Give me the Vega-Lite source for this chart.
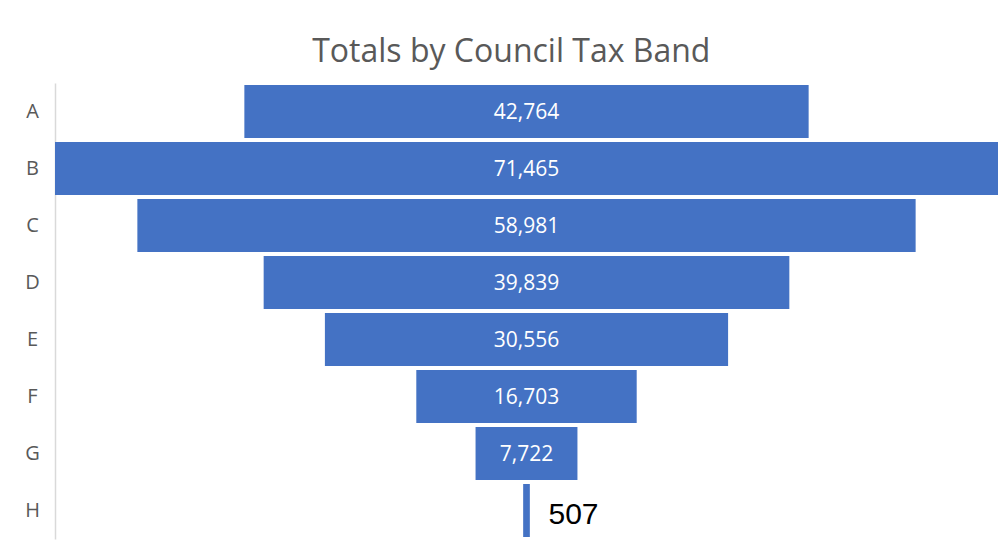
{
  "$schema": "https://vega.github.io/schema/vega-lite/v6.json",
  "width": 943,
  "height": 456,
  "autosize": "none",
  "padding": {"left": 55, "top": 83, "right": 7, "bottom": 12},
  "background": "white",
  "title": {
    "text": "Totals by Council Tax Band",
    "font": "Open Sans",
    "fontSize": 32,
    "fontWeight": "normal",
    "color": "#595959",
    "anchor": "middle",
    "frame": "bounds",
    "offset": 14
  },
  "data": {
    "values": [
      {"band": "A", "value": 42764},
      {"band": "B", "value": 71465},
      {"band": "C", "value": 58981},
      {"band": "D", "value": 39839},
      {"band": "E", "value": 30556},
      {"band": "F", "value": 16703},
      {"band": "G", "value": 7722},
      {"band": "H", "value": 507}
    ]
  },
  "encoding": {
    "y": {
      "field": "band",
      "type": "nominal",
      "sort": null,
      "scale": {"paddingInner": 0.07, "paddingOuter": 0.035},
      "axis": {
        "title": null,
        "ticks": false,
        "domainColor": "#d9d9d9",
        "domainWidth": 1.5,
        "labelFont": "Open Sans",
        "labelFontSize": 20,
        "labelColor": "#595959",
        "labelAlign": "center",
        "labelPadding": 23
      }
    }
  },
  "layer": [
    {
      "mark": {"type": "bar", "color": "#4472C4"},
      "encoding": {
        "x": {
          "field": "value",
          "type": "quantitative",
          "stack": "center",
          "scale": {"domain": [0, 71465], "nice": false, "zero": true},
          "axis": null
        }
      }
    },
    {
      "transform": [{"filter": "datum.band !== 'H'"}],
      "mark": {"type": "text", "color": "white", "font": "Open Sans", "fontSize": 21, "align": "center", "baseline": "middle", "dy": 1},
      "encoding": {
        "x": {"datum": 35732.5, "type": "quantitative", "axis": null},
        "text": {"field": "value", "type": "quantitative", "format": ","}
      }
    },
    {
      "transform": [{"filter": "datum.band === 'H'"}],
      "mark": {"type": "text", "color": "black", "font": "Liberation Sans", "fontSize": 30, "align": "left", "baseline": "middle", "dx": 22, "dy": 4},
      "encoding": {
        "x": {"datum": 35732.5, "type": "quantitative", "axis": null},
        "text": {"field": "value", "type": "quantitative", "format": ","}
      }
    }
  ],
  "config": {"view": {"stroke": null}}
}
